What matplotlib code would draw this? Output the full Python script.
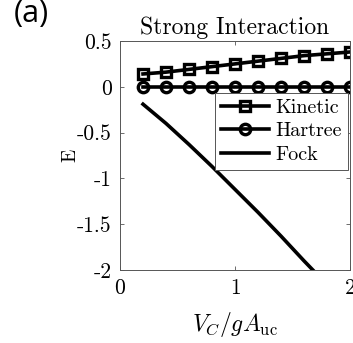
import matplotlib
matplotlib.use("Agg")
import matplotlib.pyplot as plt

plt.rcParams['font.family'] = 'serif'
plt.rcParams['font.serif'] = ['cmr10', 'DejaVu Serif']
plt.rcParams['mathtext.fontset'] = 'cm'
plt.rcParams['axes.unicode_minus'] = False
plt.rcParams['axes.formatter.use_mathtext'] = True

V = [0.2, 0.4, 0.6, 0.8, 1.0, 1.2, 1.4, 1.6, 1.8, 2.0]
kinetic = [0.14, 0.16, 0.19, 0.22, 0.25, 0.28, 0.31, 0.34, 0.36, 0.38]
hartree = [0, 0, 0, 0, 0, 0, 0, 0, 0, 0]
fock = [-0.19, -0.40, -0.63, -0.87, -1.12, -1.37, -1.63, -1.90, -2.16, -2.43]
xticks = [0, 1, 2]
xticklabels = ['0', '1', '2']
yticks = [0.5, 0, -0.5, -1, -1.5, -2]
yticklabels = ['0.5', '0', '-0.5', '-1', '-1.5', '-2']

fig = plt.figure(figsize=(3.53, 3.43), dpi=100)
ax = fig.add_axes([0.340, 0.2128, 0.6515, 0.6677])

ax.plot(V, kinetic, color='black', lw=2.6, marker='s', ms=7, mfc='none', mew=2.4, label='Kinetic')
ax.plot(V, hartree, color='black', lw=2.6, marker='o', ms=7.5, mfc='none', mew=2.4, label='Hartree')
ax.plot(V, fock, color='black', lw=2.6, label='Fock')

ax.set_xlim(0, 2)
ax.set_ylim(-2, 0.5)
ax.set_xticks(xticks)
ax.set_xticklabels(xticklabels)
ax.set_yticks(yticks)
ax.set_yticklabels(yticklabels)
ax.tick_params(direction='in', length=3, width=0.6, colors='#555555', labelcolor='black',
               labelsize=15.5, top=True, right=True, pad=6)
for s in ax.spines.values():
    s.set_color('#555555')
    s.set_linewidth(0.7)

ax.set_title('Strong Interaction', fontsize=17, pad=5)
ax.set_xlabel(r'$V_C/gA_{\rm uc}$', fontsize=17, labelpad=9)
ax.set_ylabel('E', fontsize=14, labelpad=-2)

leg = ax.legend(loc='upper right', bbox_to_anchor=(0.991, 0.772), borderaxespad=0,
                fontsize=14.5, handlelength=2.4, fancybox=False, framealpha=1,
                edgecolor='#555555', borderpad=0.3, labelspacing=0.25, handletextpad=0.3)
leg.get_frame().set_linewidth(0.7)

fig.text(0.04, 1.003, '(a)', fontsize=22, family='Open Sans', va='top', ha='left')

fig.savefig('out.png', dpi=100)
